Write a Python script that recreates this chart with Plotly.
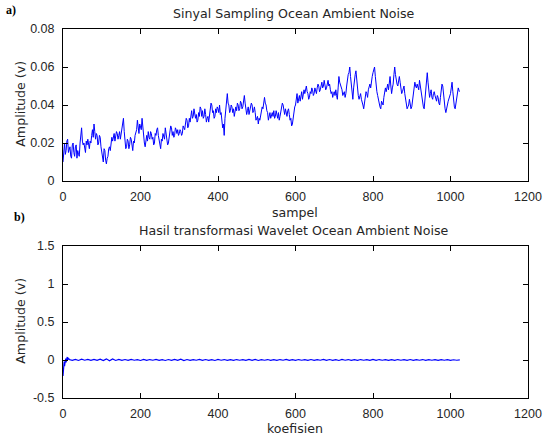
import plotly.graph_objects as go
from plotly.subplots import make_subplots

# ---- data ----
# top signal: values at samples 0, 4, 8, ..., 1020 and the last sample 1023
top_values = [
    0.010, 0.020, 0.016, 0.022, 0.017, 0.013, 0.019, 0.015, 0.018, 0.012, 0.014, 0.020, 0.028, 0.019, 0.016, 0.021,
    0.022, 0.017, 0.020, 0.027, 0.030, 0.022, 0.024, 0.020, 0.023, 0.015, 0.010, 0.016, 0.009, 0.013, 0.018, 0.020,
    0.021, 0.025, 0.023, 0.025, 0.024, 0.022, 0.026, 0.033, 0.021, 0.018, 0.021, 0.019, 0.022, 0.016, 0.020, 0.025,
    0.032, 0.025, 0.029, 0.033, 0.024, 0.018, 0.024, 0.026, 0.022, 0.025, 0.023, 0.020, 0.024, 0.028, 0.022, 0.017,
    0.021, 0.024, 0.028, 0.023, 0.020, 0.025, 0.028, 0.026, 0.024, 0.027, 0.027, 0.025, 0.026, 0.025, 0.028, 0.030,
    0.032, 0.029, 0.031, 0.037, 0.034, 0.036, 0.035, 0.032, 0.034, 0.038, 0.037, 0.034, 0.035, 0.033, 0.031, 0.036,
    0.040, 0.037, 0.034, 0.036, 0.038, 0.040, 0.036, 0.028, 0.024, 0.038, 0.046, 0.040, 0.037, 0.039, 0.038, 0.036,
    0.037, 0.040, 0.038, 0.041, 0.039, 0.045, 0.038, 0.037, 0.035, 0.038, 0.040, 0.037, 0.036, 0.033, 0.030, 0.032,
    0.036, 0.038, 0.044, 0.040, 0.036, 0.034, 0.033, 0.036, 0.037, 0.034, 0.035, 0.036, 0.034, 0.038, 0.040, 0.035,
    0.036, 0.037, 0.035, 0.033, 0.030, 0.036, 0.040, 0.046, 0.044, 0.042, 0.047, 0.045, 0.046, 0.050, 0.046, 0.044,
    0.046, 0.048, 0.046, 0.048, 0.049, 0.050, 0.048, 0.052, 0.050, 0.051, 0.049, 0.053, 0.051, 0.046, 0.044, 0.047,
    0.048, 0.043, 0.055, 0.051, 0.048, 0.046, 0.044, 0.050, 0.056, 0.060, 0.050, 0.043, 0.054, 0.058, 0.047, 0.043,
    0.046, 0.042, 0.038, 0.044, 0.046, 0.048, 0.051, 0.053, 0.057, 0.060, 0.050, 0.045, 0.040, 0.038, 0.041, 0.044,
    0.049, 0.050, 0.048, 0.055, 0.046, 0.051, 0.060, 0.053, 0.050, 0.055, 0.049, 0.047, 0.050, 0.044, 0.038, 0.040,
    0.041, 0.039, 0.044, 0.052, 0.049, 0.050, 0.053, 0.047, 0.041, 0.038, 0.050, 0.057, 0.047, 0.046, 0.044, 0.046,
    0.045, 0.042, 0.044, 0.040, 0.048, 0.050, 0.041, 0.036, 0.040, 0.043, 0.046, 0.052, 0.042, 0.038, 0.044, 0.049,
    0.047,
]
# top signal: values at samples 2, 6, 10, ..., 1018
top_values_mid = [
    0.018, 0.014, 0.021, 0.015, 0.018, 0.012, 0.020, 0.013, 0.019, 0.016, 0.013, 0.025, 0.021, 0.020, 0.015, 0.019,
    0.018, 0.021, 0.024, 0.023, 0.026, 0.025, 0.019, 0.024, 0.018, 0.014, 0.017, 0.011, 0.012, 0.017, 0.016, 0.023,
    0.024, 0.021, 0.026, 0.022, 0.026, 0.025, 0.030, 0.026, 0.017, 0.022, 0.017, 0.023, 0.018, 0.021, 0.024, 0.027,
    0.027, 0.030, 0.027, 0.028, 0.020, 0.022, 0.021, 0.023, 0.026, 0.022, 0.019, 0.025, 0.027, 0.024, 0.018, 0.022,
    0.025, 0.022, 0.025, 0.019, 0.024, 0.029, 0.024, 0.023, 0.028, 0.025, 0.024, 0.027, 0.024, 0.029, 0.027, 0.033,
    0.028, 0.033, 0.035, 0.033, 0.038, 0.033, 0.031, 0.036, 0.039, 0.034, 0.033, 0.038, 0.031, 0.034, 0.035, 0.041,
    0.036, 0.033, 0.038, 0.039, 0.036, 0.035, 0.031, 0.030, 0.033, 0.043, 0.041, 0.036, 0.040, 0.036, 0.034, 0.039,
    0.041, 0.037, 0.042, 0.038, 0.043, 0.041, 0.035, 0.039, 0.037, 0.041, 0.036, 0.039, 0.032, 0.034, 0.033, 0.035,
    0.039, 0.041, 0.041, 0.037, 0.032, 0.036, 0.035, 0.034, 0.033, 0.037, 0.033, 0.032, 0.037, 0.041, 0.036, 0.038,
    0.034, 0.038, 0.032, 0.029, 0.034, 0.039, 0.043, 0.041, 0.045, 0.045, 0.043, 0.048, 0.049, 0.047, 0.043, 0.047,
    0.049, 0.045, 0.049, 0.046, 0.051, 0.047, 0.051, 0.049, 0.053, 0.048, 0.052, 0.050, 0.048, 0.047, 0.046, 0.045,
    0.045, 0.049, 0.052, 0.049, 0.045, 0.047, 0.046, 0.054, 0.057, 0.055, 0.046, 0.049, 0.056, 0.052, 0.045, 0.045,
    0.043, 0.040, 0.041, 0.047, 0.044, 0.050, 0.049, 0.055, 0.059, 0.055, 0.047, 0.043, 0.039, 0.042, 0.040, 0.047,
    0.047, 0.051, 0.052, 0.050, 0.049, 0.056, 0.056, 0.051, 0.053, 0.052, 0.046, 0.049, 0.046, 0.041, 0.039, 0.043,
    0.038, 0.042, 0.048, 0.050, 0.051, 0.048, 0.050, 0.044, 0.039, 0.044, 0.054, 0.052, 0.044, 0.048, 0.043, 0.047,
    0.043, 0.045, 0.041, 0.044, 0.051, 0.045, 0.038, 0.039, 0.042, 0.045, 0.049, 0.047, 0.039, 0.041, 0.047,
]
top_last_sample = 1023

top_samples, top_series = [], []
for k in range(len(top_values) - 1):
    top_samples.append(4 * k)
    top_series.append(top_values[k])
    if k < len(top_values_mid):
        top_samples.append(4 * k + 2)
        top_series.append(top_values_mid[k])
top_samples.append(top_last_sample)
top_series.append(top_values[-1])

# bottom (wavelet coefficients): first 16 coefficients, then every 8th
bot_head_values = [-0.21, -0.04, -0.15, -0.02, -0.08, 0.01, -0.05, 0.02,
                   -0.03, 0.03, -0.01, 0.04, 0.00, 0.03, 0.01, 0.02]
bot_tail_values = [
    0.006, -0.004, 0.008, -0.006, 0.010, -0.003, 0.007, -0.005, 0.009, -0.004, 0.012, -0.008, 0.015, -0.010, 0.014, -0.006,
    0.008, -0.004, 0.006, -0.005, 0.007, -0.003, 0.005, -0.006, 0.008, -0.004, 0.006, -0.003, 0.007, -0.005, 0.004, -0.006,
    0.006, -0.004, 0.008, -0.005, 0.010, -0.007, 0.006, -0.004, 0.005, -0.003, 0.007, -0.005, 0.006, -0.004, 0.005, -0.006,
    0.007, -0.003, 0.006, -0.005, 0.004, -0.004, 0.006, -0.003, 0.005, -0.005, 0.007, -0.004, 0.008, -0.006, 0.005, -0.003,
    0.006, -0.005, 0.004, -0.004, 0.006, -0.003, 0.007, -0.005, 0.005, -0.004, 0.006, -0.003, 0.004, -0.005, 0.006, -0.004,
    0.005, -0.003, 0.007, -0.005, 0.006, -0.004, 0.005, -0.006, 0.007, -0.003, 0.006, -0.005, 0.004, -0.004, 0.006, -0.003,
    0.005, -0.005, 0.007, -0.004, 0.006, -0.003, 0.005, -0.005, 0.004, -0.004, 0.006, -0.003, 0.005, -0.004, 0.006, -0.005,
    0.004, -0.003, 0.006, -0.004, 0.005, -0.003, 0.004, -0.004, 0.005, -0.003, 0.004, -0.004, 0.003, -0.003, 0.002,
]
bot_values = bot_head_values + bot_tail_values
bot_samples = list(range(len(bot_head_values))) + \
    list(range(16, 16 + 8 * len(bot_tail_values), 8))

x_ticks = [0, 200, 400, 600, 800, 1000, 1200]
top_y_ticks = [0, 0.02, 0.04, 0.06, 0.08]
top_y_labels = ["0", "0.02", "0.04", "0.06", "0.08"]
bot_y_ticks = [-0.5, 0, 0.5, 1, 1.5]
bot_y_labels = ["-0.5", "0", "0.5", "1", "1.5"]

top_title = "Sinyal Sampling Ocean Ambient Noise"
bot_title = "Hasil transformasi Wavelet Ocean Ambient Noise"
top_xlabel = "sampel"
bot_xlabel = "koefisien"
ylabel = "Amplitude (v)"

# ---- figure ----
W, H = 554, 439
L, R, T, B = 63, 18, 29, 41
top_px = (29, 181)
bot_px = (246, 398)
ph = H - T - B

def dom(p):
    return [(H - B - p[1]) / ph, (H - B - p[0]) / ph]

TICKFONT = "Liberation Sans, Arial, sans-serif"
LABFONT = "DejaVu Sans, sans-serif"
TXT = "#262626"

fig = make_subplots(rows=2, cols=1)
fig.add_trace(go.Scatter(x=top_samples, y=top_series, mode="lines",
                         line=dict(color="#0000ff", width=1)), row=1, col=1)
fig.add_trace(go.Scatter(x=bot_samples, y=bot_values, mode="lines",
                         line=dict(color="#0000ff", width=1.2)), row=2, col=1)

axis_common = dict(showline=True, linecolor="#000000", linewidth=1, mirror="ticks",
                   ticks="inside", ticklen=5, tickcolor="#000000", showgrid=False,
                   zeroline=False, tickfont=dict(family=TICKFONT, size=12.5, color=TXT))

fig.update_xaxes(range=[0, 1200], tickvals=x_ticks, ticktext=[str(v) for v in x_ticks],
                 ticklabelstandoff=4, **axis_common)
fig.update_yaxes(ticklabelstandoff=5, **axis_common)
fig.update_yaxes(range=[0, 0.08], tickvals=top_y_ticks, ticktext=top_y_labels, row=1, col=1)
fig.update_yaxes(range=[-0.5, 1.5], tickvals=bot_y_ticks, ticktext=bot_y_labels, row=2, col=1)

fig.update_layout(
    width=W, height=H, margin=dict(l=L, r=R, t=T, b=B),
    paper_bgcolor="white", plot_bgcolor="white", showlegend=False,
    yaxis=dict(domain=dom(top_px)), yaxis2=dict(domain=dom(bot_px)),
    xaxis=dict(domain=[0, 1]), xaxis2=dict(domain=[0, 1]),
)

def px_ann(text, x, y, size=12.6, angle=0, bold=False, family=LABFONT, xanchor="center", yanchor="middle"):
    fig.add_annotation(text=f"<b>{text}</b>" if bold else text,
                       x=(x - L) / (W - L - R), y=(H - B - y) / ph,
                       xref="paper", yref="paper", showarrow=False, textangle=angle,
                       xanchor=xanchor, yanchor=yanchor,
                       font=dict(family=family, size=size, color=TXT if not bold else "#000"))

px_ann(top_title, 298, 14)
px_ann(top_xlabel, 299, 212)
px_ann(bot_title, 298, 230)
px_ann(bot_xlabel, 299, 429)
px_ann(ylabel, 19, 104, angle=-90)
px_ann(ylabel, 19, 321, angle=-90)
px_ann("a)", 3, 10, size=12, bold=True, family="Liberation Serif, Times New Roman, serif", xanchor="left")
px_ann("b)", 11, 217, size=12, bold=True, family="Liberation Serif, Times New Roman, serif", xanchor="left")

fig.write_html("out.html")
